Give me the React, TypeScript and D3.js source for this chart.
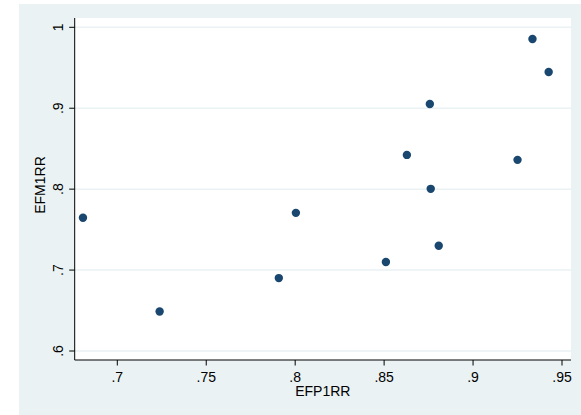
import React from "react";
import * as d3 from "d3";

const efp1rr = [0.6807, 0.7238, 0.7908, 0.8004, 0.851, 0.8628, 0.8757, 0.8762, 0.8807, 0.925, 0.9334, 0.9425];
const efm1rr = [0.7646, 0.6489, 0.6901, 0.7707, 0.7099, 0.8423, 0.9053, 0.8004, 0.73, 0.8362, 0.9856, 0.9448];
const xTicks = [0.7, 0.75, 0.8, 0.85, 0.9, 0.95];
const yTicks = [0.6, 0.7, 0.8, 0.9, 1];
const xTickLabels = [".7", ".75", ".8", ".85", ".9", ".95"];
const yTickLabels = [".6", ".7", ".8", ".9", "1"];

const W = 581, H = 415;
const L = 74.7, R = 571, T = 18, B = 360;

export default function App() {
  const x = d3.scaleLinear().domain([0.7, 0.95]).range([117.3, 562]);
  const y = d3.scaleLinear().domain([0.6, 1]).range([351, 27.3]);
  const font = "'Liberation Sans', Arial, sans-serif";
  return (
    <svg width={W} height={H} style={{ position: "absolute", left: 0, top: 0 }} fontFamily={font}>
      <rect x={0} y={0} width={W} height={H} fill="#ffffff" />
      <rect x={19} y={4} width={W - 19} height={H - 4} fill="#eaf2f3" />
      <rect x={L} y={T} width={R - L} height={B - T} fill="#ffffff" />
      {yTicks.map((t, i) => (
        <line key={"g" + i} x1={L} x2={R} y1={y(t)} y2={y(t)} stroke="#eaf2f3" strokeWidth={1.5} />
      ))}
      <line x1={L} x2={L} y1={T} y2={B} stroke="#000" strokeWidth={1} />
      <line x1={L} x2={R} y1={B} y2={B} stroke="#000" strokeWidth={1} />
      {yTicks.map((t, i) => (
        <g key={"y" + i}>
          <line x1={L - 5.5} x2={L} y1={y(t)} y2={y(t)} stroke="#000" />
          <text transform={`translate(${62.7},${y(t)}) rotate(-90)`} textAnchor="middle" fontSize={14} fill="#000">
            {yTickLabels[i]}
          </text>
        </g>
      ))}
      {xTicks.map((t, i) => (
        <g key={"x" + i}>
          <line x1={x(t)} x2={x(t)} y1={B} y2={B + 5.5} stroke="#000" />
          <text x={x(t)} y={381.7} textAnchor="middle" fontSize={14} fill="#000">
            {xTickLabels[i]}
          </text>
        </g>
      ))}
      <text x={(L + R) / 2} y={396} textAnchor="middle" fontSize={14} fill="#000">EFP1RR</text>
      <text transform={`translate(45,185) rotate(-90)`} textAnchor="middle" fontSize={14} fill="#000">EFM1RR</text>
      {efp1rr.map((v, i) => (
        <circle key={"p" + i} cx={x(v)} cy={y(efm1rr[i])} r={4.2} fill="#1a476f" />
      ))}
    </svg>
  );
}
